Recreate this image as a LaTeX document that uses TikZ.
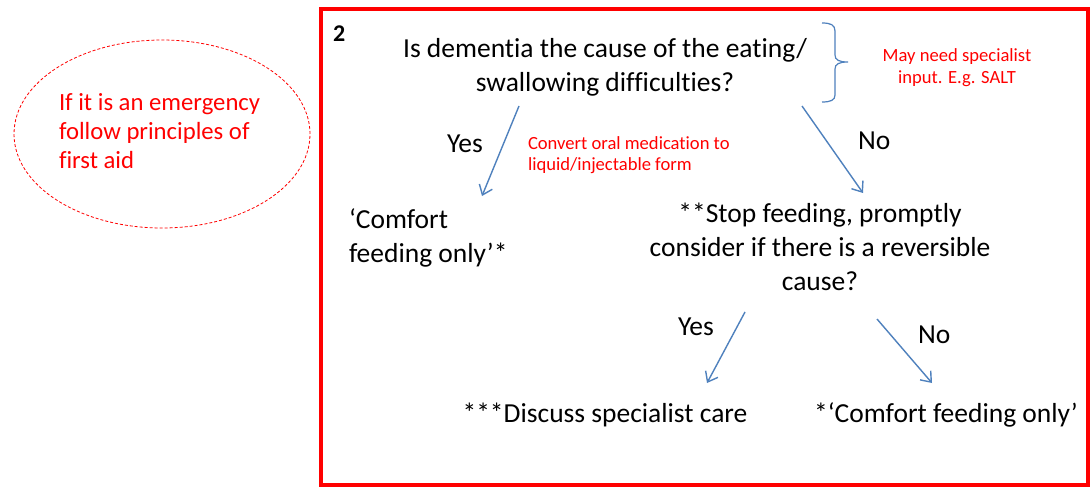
\documentclass[tikz,border=0pt]{standalone}
\usepackage{fontspec}
\setmainfont{Carlito}[Ligatures=NoCommon]
\usetikzlibrary{arrows.meta,shapes.geometric}
\definecolor{flowblue}{HTML}{4F81BD}
\definecolor{alertred}{HTML}{FF0000}
\begin{document}
\begin{tikzpicture}[x=1pt,y=-1pt,
  every node/.style={inner sep=0pt, outer sep=0pt},
  main/.style={font=\fontsize{27.5}{34}\selectfont, text=black},
  note/.style={font=\fontsize{18.6}{21}\selectfont, text=alertred},
  flow/.style={draw=flowblue, line width=1.4pt, -{Straight Barb[length=9pt,width=14pt]}},
]
\useasboundingbox (0,0) rectangle (1092,487);
\fill[white] (0,0) rectangle (1092,487);

% emergency reminder (multi-line nodes sit on the baseline of their last line)
\node[ellipse, draw=alertred, dashed, dash pattern=on 3pt off 2pt, line width=0.8pt,
      minimum width=296pt, minimum height=188pt] (emergency) at (162,134) {};
\node[font=\fontsize{24.7}{29}\selectfont, text=alertred, align=left, anchor=base west]
  (emergtext) at (59,168) {If it is an emergency\\follow principles of\\first aid};

% frame of step 2
\draw[alertred, line width=4pt] (321,9) rectangle (1088,485);
\node[font=\fontsize{24}{28}\selectfont\bfseries, anchor=base west] (stepno) at (333,42) {2};

% question
\node[main, align=center, anchor=base] (question) at (605,92)
  {Is dementia the cause of the eating/\\swallowing difficulties?};
\draw[flowblue, line width=1.2pt]
  (822,23) .. controls (831,23) and (835,25) .. (835,31) -- (835,55)
  .. controls (835,60) and (839,62) .. (848,62)
  .. controls (839,62) and (835,64) .. (835,69) -- (835,95)
  .. controls (835,100) and (831,102) .. (822,102);
\node[note, align=center, anchor=base] (specialist) at (957,83)
  {May need specialist\\input. E.g. SALT};

% first branch
\coordinate (q-yes) at (519,106);
\coordinate (c1-top) at (482,196);
\coordinate (q-no) at (802,106);
\coordinate (s-top) at (863,193);
\draw[flow] (q-yes) -- (c1-top);
\draw[flow] (q-no) -- (s-top);
\node[main, anchor=base west] (yes1) at (447,152) {Yes};
\node[main, anchor=base west] (no1) at (858,149) {No};
\node[note, align=left, anchor=base west] (convert) at (528,170)
  {Convert oral medication to\\liquid/injectable form};

\node[main, align=left, anchor=base west] (comfort1) at (349,262)
  {‘Comfort\\feeding only’*};
\node[main, align=center, anchor=base] (stop) at (820,290)
  {**Stop feeding, promptly\\consider if there is a reversible\\cause?};

% second branch
\coordinate (s-yes) at (745,312);
\coordinate (d-top) at (707,383);
\coordinate (s-no) at (877,319);
\coordinate (c2-top) at (932,383);
\draw[flow] (s-yes) -- (d-top);
\draw[flow] (s-no) -- (c2-top);
\node[main, anchor=base west] (yes2) at (678,335) {Yes};
\node[main, anchor=base west] (no2) at (918,343) {No};

\node[main, anchor=base] (discuss) at (605,422) {***Discuss specialist care};
\node[main, anchor=base] (comfort2) at (946,422) {*‘Comfort feeding only’};
\end{tikzpicture}
\end{document}
